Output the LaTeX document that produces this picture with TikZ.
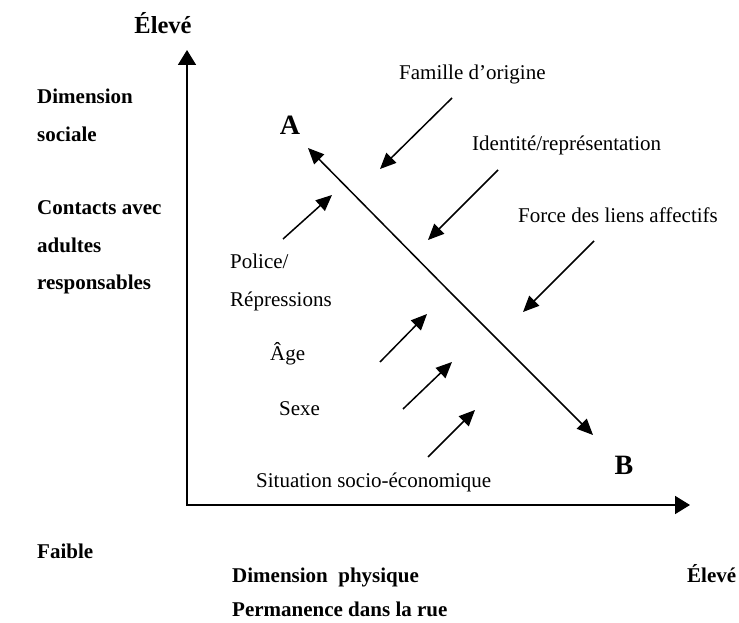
\documentclass[tikz,border=0pt]{standalone}
\usepackage{fontspec}
\setmainfont{Liberation Serif}
\usetikzlibrary{arrows.meta}
\begin{document}
\begin{tikzpicture}[x=1pt,y=-1pt,
  lbl/.style={inner sep=0pt,anchor=base west,font=\fontsize{21}{25}\selectfont},
  blbl/.style={lbl,font=\fontsize{21}{25}\selectfont\bfseries},
  big/.style={inner sep=0pt,anchor=base,font=\fontsize{28}{32}\selectfont\bfseries},
  axis/.style={line width=1.8pt,-{Triangle[length=15pt,width=18pt]}},
  infl/.style={line width=1.5pt,-{Triangle[length=16pt,width=14pt]}}]
\useasboundingbox (0,0) rectangle (739,623);
% axes
\coordinate (O) at (187,505);
\coordinate (Ytop) at (187,50);
\coordinate (Xend) at (690,505);
\draw[axis] (O) -- (Ytop);
\draw[axis] ([xshift=-0.9pt]O) -- (Xend);
% texts
\node[inner sep=0pt,anchor=base,font=\fontsize{24.5}{28}\selectfont\bfseries] (ytitle) at (163,34) {Élevé};
\node[blbl] (d1) at (37,104) {Dimension};
\node[blbl] (d2) at (37,142) {sociale};
\node[blbl] (c1) at (37,214) {Contacts avec};
\node[blbl] (c2) at (37,252) {adultes};
\node[blbl] (c3) at (37,289) {responsables};
\node[blbl] (faible) at (37,558) {Faible};
\node[blbl] (p1) at (232,582) {Dimension\ \ physique};
\node[blbl] (p2) at (232,616) {Permanence dans la rue};
\node[blbl] (xtitle) at (687,582) {Élevé};
\node[big] (A) at (290,135) {A};
\node[big] (B) at (624,474) {B};
\node[lbl] (fam) at (399,80) {Famille d’origine};
\node[lbl] (ident) at (472,150) {Identité/représentation};
\node[lbl] (force) at (518,222) {Force des liens affectifs};
\node[lbl] (pol1) at (230,268) {Police/};
\node[lbl] (pol2) at (230,306) {Répressions};
\node[lbl] (age) at (270,360) {Âge};
\node[lbl] (sexe) at (279,415) {Sexe};
\node[lbl] (situ) at (256,487) {Situation socio-économique};
% diagonal A-B
\coordinate (abmid) at (450,292);
\coordinate (atip) at (308,148);
\coordinate (btip) at (593,435);
\draw[infl] (abmid) -- (atip);
\draw[infl] (abmid) -- (btip);
% influence arrows
\coordinate (f1) at (452,98);  \coordinate (f2) at (380,169);
\coordinate (i1) at (498,170); \coordinate (i2) at (428,240);
\coordinate (g1) at (594,241); \coordinate (g2) at (523,312);
\coordinate (q1) at (283,239); \coordinate (q2) at (332,195);
\coordinate (a1) at (380,362); \coordinate (a2) at (427,314);
\coordinate (s1) at (403,409); \coordinate (s2) at (452,362);
\coordinate (e1) at (428,457); \coordinate (e2) at (475,410);
\draw[infl] (f1) -- (f2);
\draw[infl] (i1) -- (i2);
\draw[infl] (g1) -- (g2);
\draw[infl] (q1) -- (q2);
\draw[infl] (a1) -- (a2);
\draw[infl] (s1) -- (s2);
\draw[infl] (e1) -- (e2);
\end{tikzpicture}
\end{document}
